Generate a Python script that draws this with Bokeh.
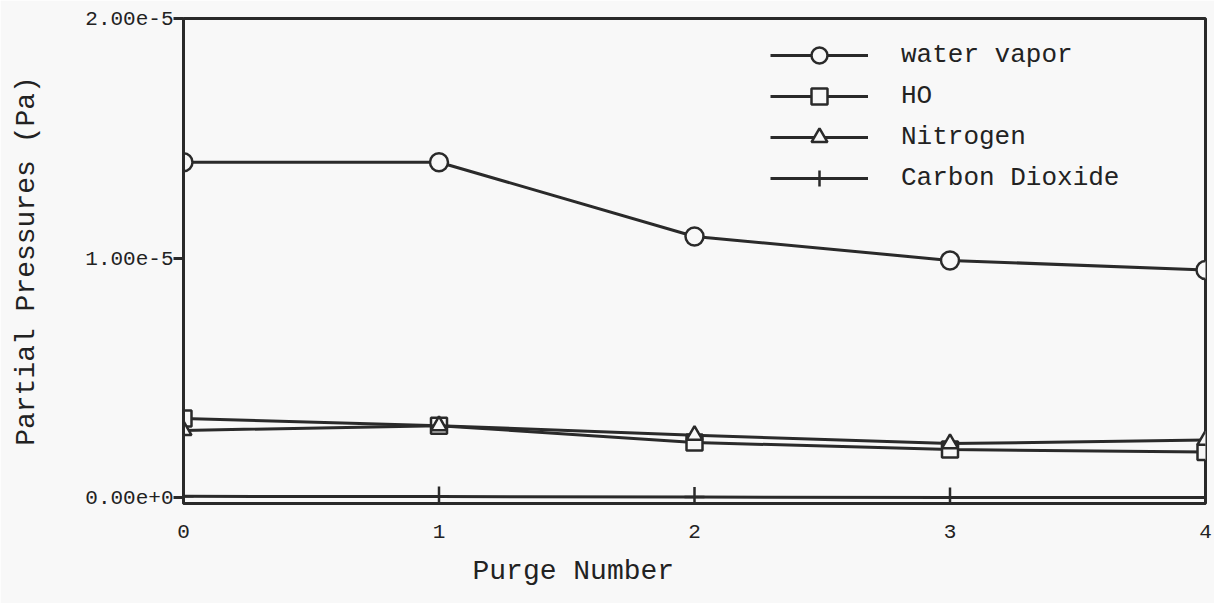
from bokeh.plotting import figure
from bokeh.models import (FixedTicker, CustomJSTickFormatter, Range1d, Title)
from bokeh.embed import file_html
from bokeh.resources import INLINE

# ---- data ----
purge = [0, 1, 2, 3, 4]
water_vapor = [1.40e-5, 1.40e-5, 1.09e-5, 0.99e-5, 0.95e-5]
ho = [0.33e-5, 0.30e-5, 0.23e-5, 0.20e-5, 0.19e-5]
nitrogen = [0.28e-5, 0.30e-5, 0.26e-5, 0.225e-5, 0.24e-5]
carbon_dioxide = [0.005e-5, 0.004e-5, 0.002e-5, 0.0, 0.0]

series_names = ["water vapor", "HO", "Nitrogen", "Carbon Dioxide"]
x_ticks = [0, 1, 2, 3, 4]
y_ticks = [0.0, 1.0e-5, 2.0e-5]

FONT = "Liberation Mono"
INK = "#2a2a2a"
BG = "#f8f8f8"

p = figure(width=1214, height=603, output_backend="svg", toolbar_location=None,
           x_range=Range1d(0, 4), y_range=Range1d(-0.025e-5, 2.0e-5),
           min_border_left=183, min_border_right=9, min_border_top=18,
           min_border_bottom=100)
p.background_fill_color = BG
p.border_fill_color = BG
p.outline_line_color = INK
p.outline_line_width = 3
p.grid.visible = False

markers = ["circle", "square", "triangle", "cross"]
sizes = [18, 16, 16, 20]
data = [water_vapor, ho, nitrogen, carbon_dioxide]
for name, ys, mk, sz in zip(series_names, data, markers, sizes):
    p.line(purge, ys, line_color=INK, line_width=3, legend_label=name)
    p.scatter(purge, ys, marker=mk, size=sz, fill_color=BG, line_color=INK,
              line_width=2.5, legend_label=name)

# axes
p.xaxis.ticker = FixedTicker(ticks=x_ticks)
p.yaxis.ticker = FixedTicker(ticks=y_ticks)
p.yaxis.formatter = CustomJSTickFormatter(code="return tick.toExponential(2);")
for ax in (p.xaxis[0], p.yaxis[0]):
    ax.axis_line_color = INK
    ax.axis_line_width = 3
    ax.major_tick_line_color = INK
    ax.major_tick_line_width = 3
    ax.minor_tick_line_color = None
    ax.major_label_text_font = FONT
    ax.major_label_text_font_size = "21px"
    ax.major_label_text_color = "#222222"
    ax.axis_label_text_font = FONT
    ax.axis_label_text_font_size = "28px"
    ax.axis_label_text_font_style = "normal"
    ax.axis_label_text_color = "#222222"
p.xaxis.major_tick_out = 0
p.xaxis.major_tick_in = 0
p.xaxis.major_label_standoff = 21
p.yaxis.major_tick_out = 10
p.yaxis.major_tick_in = 0
p.yaxis.major_label_standoff = 0
p.yaxis.axis_label = "Partial Pressures (Pa)"
p.yaxis.axis_label_standoff = 40

xt = Title(text="Purge Number", align="left", offset=289, standoff=27,
           text_font=FONT, text_font_size="28px", text_font_style="normal",
           text_color="#222222")
p.add_layout(xt, "below")

# legend
leg = p.legend[0]
leg.location = (587, 305)
leg.padding = 0
leg.margin = 0
leg.spacing = 1
leg.glyph_width = 98
leg.glyph_height = 40
leg.label_height = 40
leg.label_standoff = 33
leg.label_text_font = FONT
leg.label_text_font_size = "26px"
leg.label_text_color = "#222222"
leg.border_line_alpha = 0
leg.background_fill_alpha = 0

open("out.html", "w").write(file_html(p, INLINE))
